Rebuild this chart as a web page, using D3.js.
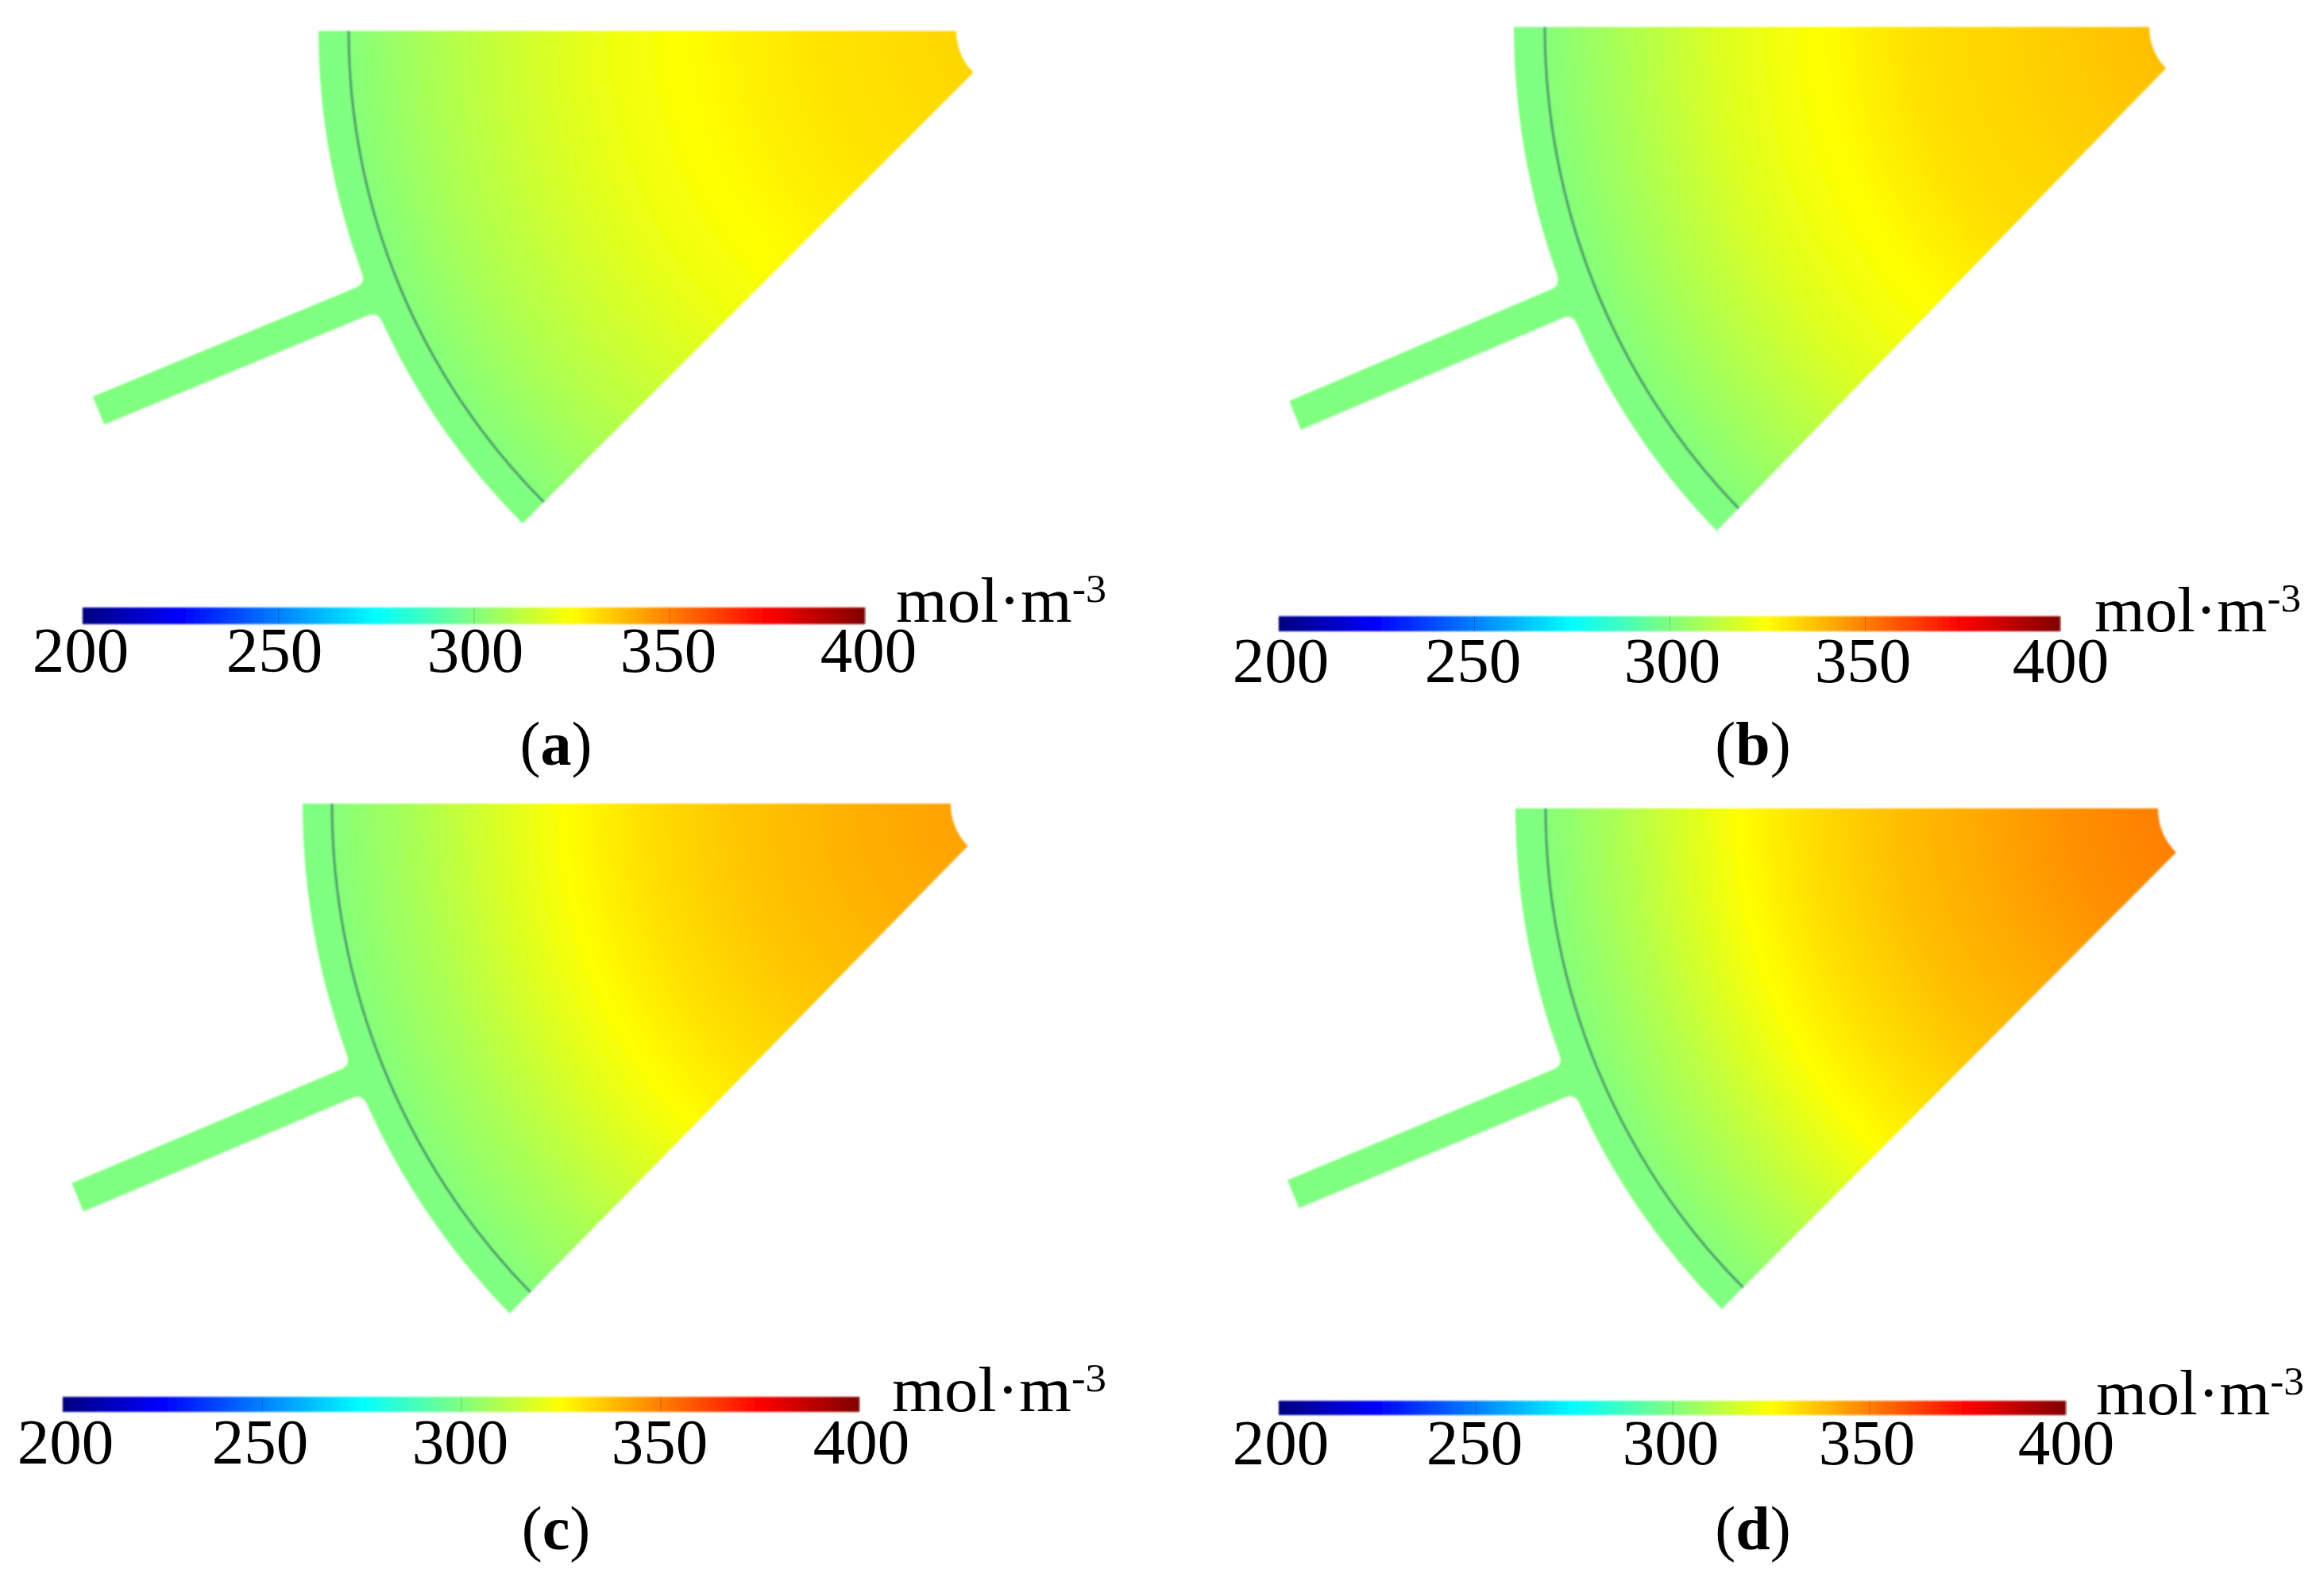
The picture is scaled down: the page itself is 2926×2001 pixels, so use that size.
<!DOCTYPE html>
<html>

<head>
    <meta charset="utf-8">
    <title>Concentration</title>
    <script src="https://d3js.org/d3.v7.min.js"></script>
    <style>
    html, body {
        margin: 0;
        background: #fff;
    }

    text {
        font-family: "Liberation Serif", serif;
        fill: #000;
    }
    </style>
</head>

<body>
    <script>
    // colour bar
    var barTicks = [200, 250, 300, 350, 400];
    var jetValues = [200, 225, 275, 325, 375, 400];
    var jetColors = ["#000080", "#0000ff", "#00ffff", "#ffff00", "#ff0000", "#800000"];

    var panelNames = ["a", "b", "c", "d"];

    // concentration against radius (fraction of the sector radius)
    var radiusA = [0.084, 0.19, 0.32, 0.477, 0.576, 0.704, 0.832, 0.957];
    var concA = [333, 331.5, 329.5, 325, 322, 316, 309, 301];
    var radiusB = [0.083, 0.258, 0.419, 0.554, 0.611, 0.708, 0.837, 0.955];
    var concB = [337.5, 334, 331, 325, 323, 318, 309, 301];
    var radiusC = [0.083, 0.203, 0.393, 0.519, 0.629, 0.708, 0.835, 0.958];
    var concC = [343, 341, 336, 331, 325, 319, 309, 301];
    var radiusD = [0.088, 0.209, 0.336, 0.462, 0.589, 0.683, 0.747, 0.842, 0.957];
    var concD = [350, 347, 342, 337.5, 331, 325, 319, 310, 301];
    var concBand = 300;

    // sector geometry per panel
    var centerX = [1278, 2778, 1271, 2795];
    var centerY = [39, 33.5, 1012, 1018];
    var stretchY = [1, 1.03, 1.02, 1.005];
    var outerR = [877, 872, 890, 887];
    var innerR = [74, 72, 74, 78];
    var lineR = [839, 833, 853, 849];
    var tubeLen = [372, 370, 380, 376];
    var tubeW = 38;

    // colour bar and label placement per panel
    var barX0 = [104, 1610, 79, 1610];
    var barX1 = [1089, 2594, 1082, 2601];
    var barY = [765, 776, 1759, 1764];
    var barH = [21, 19, 19, 18];
    var tickBase = [846, 859, 1843, 1844];
    var labelX = [
        [101, 345, 598, 841, 1093],
        [1612, 1854, 2105, 2345, 2594],
        [82, 327, 579, 830, 1084],
        [1612, 1856, 2103, 2350, 2601]
    ];
    var unitX = [1128, 2637, 1123, 2639];
    var unitW = [265, 260, 270, 262];
    var unitBase = [783, 795, 1777, 1781];
    var capX = [700, 2207, 700, 2207];
    var capBase = [963, 963, 1951, 1951];

    var w = 2926;
    var h = 2001;

    var svg = d3.select("body").append("svg")
        .attr("width", w)
        .attr("height", h)
        .style("display", "block");

    var defs = svg.append("defs");
    defs.append("filter").attr("id", "soft")
        .attr("x", "-5%").attr("y", "-5%").attr("width", "110%").attr("height", "110%")
        .append("feGaussianBlur").attr("stdDeviation", 1.2);
    defs.append("filter").attr("id", "softBar")
        .attr("x", "-2%").attr("y", "-50%").attr("width", "104%").attr("height", "200%")
        .append("feGaussianBlur").attr("stdDeviation", 1);

    var jet = d3.scaleLinear().domain(jetValues).range(jetColors);

    var radii = [radiusA, radiusB, radiusC, radiusD];
    var concs = [concA, concB, concC, concD];

    panelNames.forEach(function(name, i) {
        var R = outerR[i];

        // radial field
        var grad = defs.append("radialGradient")
            .attr("id", "field" + name)
            .attr("gradientUnits", "userSpaceOnUse")
            .attr("cx", 0).attr("cy", 0).attr("r", R);
        grad.selectAll("stop")
            .data(radii[i])
            .enter()
            .append("stop")
            .attr("offset", function(d) { return d; })
            .attr("stop-color", function(d, j) { return jet(concs[i][j]); });

        var g = svg.append("g")
            .attr("transform", "translate(" + centerX[i] + "," + centerY[i] + ") scale(1," + stretchY[i] + ")")
            .attr("filter", "url(#soft)");

        var sector = d3.arc().startAngle(-Math.PI / 2).endAngle(-Math.PI * 3 / 4);

        g.append("path")
            .attr("d", sector({ innerRadius: innerR[i], outerRadius: lineR[i] }))
            .attr("fill", "url(#field" + name + ")");

        g.append("path")
            .attr("d", sector({ innerRadius: lineR[i], outerRadius: R }))
            .attr("fill", jet(concBand));

        // feed tube and its two fillets, drawn along -x then turned to the middle of the sector
        var edge = -Math.sqrt(R * R - tubeW * tubeW / 4);
        var f = 14;
        var tube = g.append("g").attr("transform", "rotate(-22.5)");

        tube.append("rect")
            .attr("x", -R - tubeLen[i])
            .attr("y", -tubeW / 2)
            .attr("width", tubeLen[i] + 12)
            .attr("height", tubeW)
            .attr("fill", jet(concBand));

        [-1, 1].forEach(function(s) {
            var yEdge = s * tubeW / 2;
            var yArc = s * (tubeW / 2 + f);
            var p = d3.path();
            p.moveTo(edge - f, yEdge);
            p.quadraticCurveTo(edge, yEdge, -Math.sqrt(R * R - yArc * yArc), yArc);
            p.lineTo(edge + 12, yArc);
            p.lineTo(edge + 12, yEdge);
            p.closePath();
            tube.append("path")
                .attr("d", p.toString())
                .attr("fill", jet(concBand));
        });

        g.append("path")
            .attr("d", sector({ innerRadius: lineR[i] - 1.5, outerRadius: lineR[i] + 1.5 }))
            .attr("fill", "#4a9068");

        // colour bar
        var barGrad = defs.append("linearGradient").attr("id", "bar" + name);
        barGrad.selectAll("stop")
            .data(jetValues)
            .enter()
            .append("stop")
            .attr("offset", function(d) { return (d - 200) / 200; })
            .attr("stop-color", function(d) { return jet(d); });

        var x = d3.scaleLinear().domain([200, 400]).range([barX0[i], barX1[i]]);

        svg.append("rect")
            .attr("x", barX0[i])
            .attr("y", barY[i])
            .attr("width", barX1[i] - barX0[i])
            .attr("height", barH[i])
            .attr("fill", "url(#bar" + name + ")")
            .attr("filter", "url(#softBar)");

        var axis = d3.axisBottom(x)
            .tickValues(barTicks)
            .tickSize(-barH[i])
            .tickPadding(0);

        var ax = svg.append("g")
            .attr("transform", "translate(0," + (barY[i] + barH[i]) + ")")
            .call(axis);
        ax.select(".domain").remove();
        ax.selectAll("line").attr("stroke", "#000").attr("stroke-opacity", 0.18);
        ax.selectAll("text")
            .attr("font-size", 81)
            .attr("dy", 0)
            .attr("x", function(d, j) { return labelX[i][j] - x(d); })
            .attr("y", tickBase[i] - barY[i] - barH[i])
            .style("font-family", '"Liberation Serif", serif')
            .style("fill", "#000");

        var unit = svg.append("text")
            .attr("x", unitX[i])
            .attr("y", unitBase[i])
            .attr("font-size", 80)
            .attr("textLength", unitW[i])
            .attr("lengthAdjust", "spacingAndGlyphs");
        unit.append("tspan").text("mol·m");
        unit.append("tspan").attr("font-size", 50).attr("dy", -25).text("-3");

        var cap = svg.append("text")
            .attr("x", capX[i])
            .attr("y", capBase[i])
            .attr("font-size", 78)
            .attr("text-anchor", "middle");
        cap.append("tspan").text("(");
        cap.append("tspan").attr("font-weight", "bold").text(name);
        cap.append("tspan").text(")");
    });
    </script>
</body>

</html>
